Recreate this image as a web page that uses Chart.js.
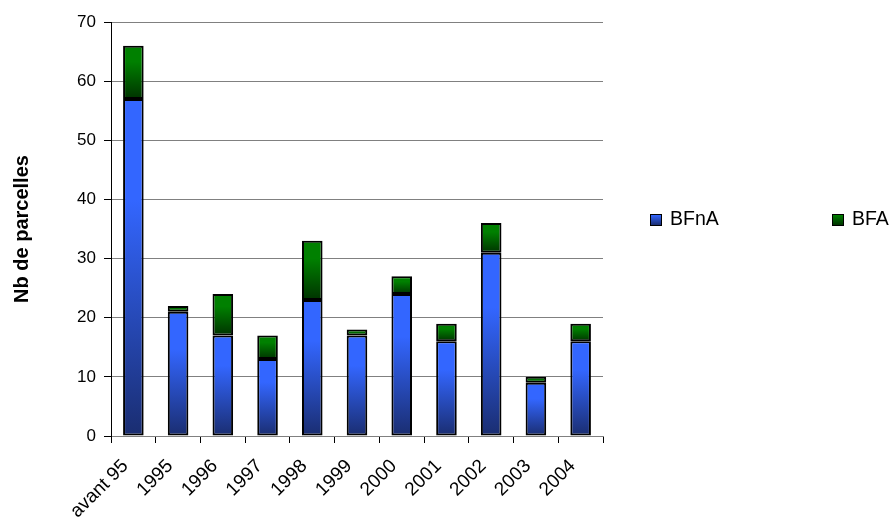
<!DOCTYPE html>
<html>
<head>
<meta charset="utf-8">
<script src="https://cdn.jsdelivr.net/npm/chart.js@4.4.1/dist/chart.umd.min.js"></script>
<style>
  html, body { margin: 0; padding: 0; background: #fff; }
  #wrap { position: relative; width: 895px; height: 529px; }
  #legend { position: absolute; top: 207px; left: 650px; font-family: "Liberation Sans", Arial, sans-serif; font-size: 19.5px; color: #000; }
  #legend span.item { position: absolute; white-space: nowrap; }
  #legend span.box { display: inline-block; width: 10px; height: 10px; border: 1.5px solid #000; margin-right: 8px; vertical-align: -1px; }
</style>
</head>
<body>
<div id="wrap">
  <canvas id="chart" width="895" height="529"></canvas>
  <div id="legend"></div>
</div>
<script>
var years = ['avant 95', '1995', '1996', '1997', '1998', '1999', '2000', '2001', '2002', '2003', '2004'];
var bfna = [57, 21, 17, 13, 23, 17, 24, 16, 31, 9, 16];
var bfa = [9, 1, 7, 4, 10, 1, 3, 3, 5, 1, 3];
var seriesNames = ['BFnA', 'BFA'];
var yTicks = [0, 10, 20, 30, 40, 50, 60, 70];

// colours top -> bottom of each segment
var blueTop = '#3366ff', blueBottom = '#1a2d70';
var greenTop = '#008000', greenBottom = '#003300';

function segFill(ctx, lowArr, highArr, top, bottom) {
  var chart = ctx.chart;
  var y = chart.scales && chart.scales.y;
  if (ctx.type !== 'data' || !y || !chart.chartArea) return top;
  var i = ctx.dataIndex;
  var lo = lowArr ? lowArr[i] : 0;
  var hi = lo + highArr[i];
  var y0 = y.getPixelForValue(lo), y1 = y.getPixelForValue(hi);
  if (!isFinite(y0) || !isFinite(y1) || y0 === y1) return top;
  var g = chart.ctx.createLinearGradient(0, y1, 0, y0);
  g.addColorStop(0, top);
  g.addColorStop(0.3, top);
  g.addColorStop(1, bottom);
  return g;
}

var font = "'Liberation Sans', Arial, sans-serif";

var chart = new Chart(document.getElementById('chart'), {
  type: 'bar',
  data: {
    labels: years,
    datasets: [
      {
        label: seriesNames[0],
        data: bfna,
        backgroundColor: function(c) { return segFill(c, null, bfna, blueTop, blueBottom); },
        borderColor: '#000',
        borderWidth: 2,
        borderSkipped: false,
        barPercentage: 0.46,
        categoryPercentage: 1
      },
      {
        label: seriesNames[1],
        data: bfa,
        backgroundColor: function(c) { return segFill(c, bfna, bfa, greenTop, greenBottom); },
        borderColor: '#000',
        borderWidth: 2,
        borderSkipped: false,
        barPercentage: 0.46,
        categoryPercentage: 1
      }
    ]
  },
  options: {
    responsive: false,
    animation: false,
    layout: { padding: { top: 22, right: 292, left: 0, bottom: 0 } },
    plugins: { legend: { display: false }, tooltip: { enabled: false } },
    scales: {
      x: {
        stacked: true,
        afterFit: function(s) { s.height = 93; },
        grid: { display: true, drawOnChartArea: false, drawTicks: true, tickLength: 7, color: '#000', offset: true },
        border: { display: true, color: '#808080', width: 1 },
        ticks: { color: '#000', font: { family: font, size: 19 }, maxRotation: 45, minRotation: 45, padding: 12, labelOffset: -8, autoSkip: false }
      },
      y: {
        stacked: true,
        min: 0, max: 70,
        afterFit: function(s) { s.width = 111; },
        afterBuildTicks: function(s) { s.ticks = yTicks.map(function(v) { return { value: v }; }); },
        grid: { color: '#808080', lineWidth: 1, tickLength: 7, tickColor: '#000' },
        border: { display: true, color: '#000', width: 1 },
        ticks: { color: '#000', font: { family: font, size: 17 }, padding: 8 },
        title: { display: true, text: 'Nb de parcelles', color: '#000', font: { family: font, size: 20, weight: 'bold' }, padding: { top: 10, bottom: 0 } }
      }
    }
  }
});

// legend laid out as in the reference (two items side by side)
var leg = document.getElementById('legend');
var boxCols = [[blueTop, blueBottom], [greenTop, greenBottom]];
var offs = [0, 182];
seriesNames.forEach(function(n, k) {
  var it = document.createElement('span');
  it.className = 'item';
  it.style.left = offs[k] + 'px';
  it.innerHTML = '<span class="box" style="background:linear-gradient(' + boxCols[k][0] + ',' + boxCols[k][1] + ')"></span>' + n;
  leg.appendChild(it);
});
</script>
</body>
</html>
